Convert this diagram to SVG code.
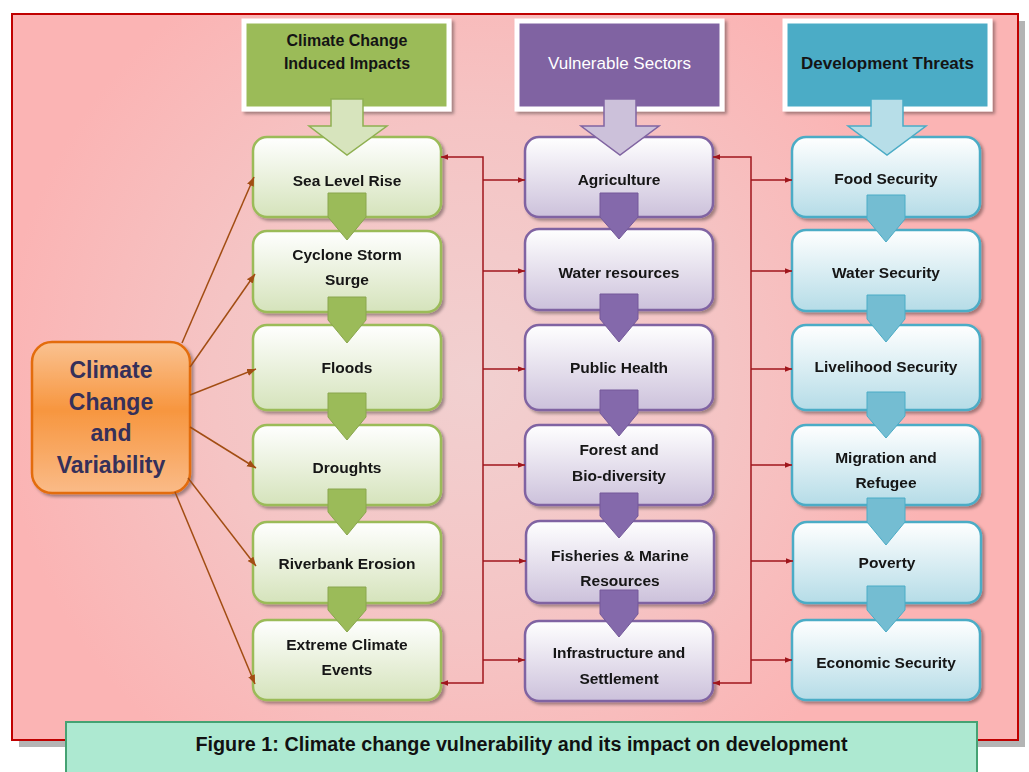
<svg xmlns="http://www.w3.org/2000/svg" width="1029" height="772" viewBox="0 0 1029 772">
  <defs>
    <style>
      .t { font-family: "Liberation Sans", Arial, sans-serif; font-weight: bold; font-size: 15.5px; fill: #141414; text-anchor: middle; }
      .hd { font-family: "Liberation Sans", Arial, sans-serif; font-weight: bold; font-size: 16px; fill: #141414; text-anchor: middle; }
      .big { font-family: "Liberation Sans", Arial, sans-serif; font-weight: bold; font-size: 23px; fill: #35305a; text-anchor: middle; }
      .g { fill: url(#gGreen); stroke: #9bbb59; stroke-width: 2.5; }
      .p { fill: url(#gPurple); stroke: #8064a2; stroke-width: 2.5; }
      .c { fill: url(#gTeal); stroke: #4bacc6; stroke-width: 2.5; }
      .link { fill: none; stroke: #a0161c; stroke-width: 1.5; }
      .cause { fill: none; stroke: #a24d13; stroke-width: 1.5; }
      .chG { fill: #9bbb59; stroke: #8aa64e; stroke-width: 1; }
      .chP { fill: #8469ab; stroke: #74599a; stroke-width: 1; }
      .chC { fill: #74bdd2; stroke: #4bacc6; stroke-width: 1; }
    </style>
    <radialGradient id="bg" cx="470" cy="380" r="470" gradientUnits="userSpaceOnUse">
      <stop offset="0" stop-color="#f1d0d0"/>
      <stop offset="0.55" stop-color="#f5c4c4"/>
      <stop offset="1" stop-color="#fbb4b4"/>
    </radialGradient>
    <linearGradient id="gGreen" x1="0" y1="0" x2="0" y2="1">
      <stop offset="0" stop-color="#ffffff"/>
      <stop offset="1" stop-color="#d5e3bb"/>
    </linearGradient>
    <linearGradient id="gPurple" x1="0" y1="0" x2="0" y2="1">
      <stop offset="0" stop-color="#ffffff"/>
      <stop offset="1" stop-color="#ccc1db"/>
    </linearGradient>
    <linearGradient id="gTeal" x1="0" y1="0" x2="0" y2="1">
      <stop offset="0" stop-color="#ffffff"/>
      <stop offset="1" stop-color="#b5dce7"/>
    </linearGradient>
    <linearGradient id="gOrange" x1="0" y1="0" x2="0" y2="1">
      <stop offset="0" stop-color="#fac291"/>
      <stop offset="0.45" stop-color="#f7963f"/>
      <stop offset="1" stop-color="#fabb88"/>
    </linearGradient>
    <filter id="sh" x="-10%" y="-10%" width="125%" height="130%">
      <feDropShadow dx="2.5" dy="2.5" stdDeviation="1.5" flood-color="#000" flood-opacity="0.35"/>
    </filter>
    <marker id="mRed" viewBox="0 0 10 10" refX="10" refY="5" markerWidth="7" markerHeight="7" markerUnits="userSpaceOnUse" orient="auto-start-reverse">
      <path d="M0,1 L10,5 L0,9 z" fill="#a0161c"/>
    </marker>
    <marker id="mBrown" viewBox="0 0 10 10" refX="10" refY="5" markerWidth="9" markerHeight="9" markerUnits="userSpaceOnUse" orient="auto">
      <path d="M0,1 L10,5 L0,9 z" fill="#a24d13"/>
    </marker>
  </defs>

  <!-- page and frame -->
  <rect x="0" y="0" width="1029" height="772" fill="#ffffff"/>
  <rect x="19" y="21" width="1006" height="726" fill="#b4b4b4"/>
  <rect x="12" y="14" width="1006" height="726" fill="url(#bg)" stroke="#c00000" stroke-width="2"/>

  <!-- column headers -->
  <g id="hdr-impacts">
    <rect x="244" y="21" width="205" height="88" fill="#9bbb59" stroke="#ffffff" stroke-width="5" filter="url(#sh)"/>
    <text class="hd" x="347" y="46">Climate Change</text>
    <text class="hd" x="347" y="69">Induced Impacts</text>
  </g>
  <g id="hdr-sectors">
    <rect x="517" y="21" width="205" height="88" fill="#8064a2" stroke="#ffffff" stroke-width="5" filter="url(#sh)"/>
    <text class="hd" x="619.5" y="69" style="fill:#ffffff;font-weight:normal;font-size:17px">Vulnerable Sectors</text>
  </g>
  <g id="hdr-threats">
    <rect x="785" y="21" width="205" height="88" fill="#4bacc6" stroke="#ffffff" stroke-width="5" filter="url(#sh)"/>
    <text class="hd" x="887.5" y="69" style="font-size:17px">Development Threats</text>
  </g>

  <!-- source node -->
  <g id="climate-change">
    <rect x="32" y="342" width="158" height="151" rx="20" fill="url(#gOrange)" stroke="#e36c09" stroke-width="2.5" filter="url(#sh)"/>
    <text class="big" x="111" y="378">Climate</text>
    <text class="big" x="111" y="410">Change</text>
    <text class="big" x="111" y="441">and</text>
    <text class="big" x="111" y="473">Variability</text>
  </g>

  <!-- impacts column -->
  <g id="sea-level-rise" filter="url(#sh)">
    <rect class="g" x="253" y="137" width="188" height="80" rx="14"/>
    <text class="t" x="347" y="186">Sea Level Rise</text>
  </g>
  <g id="cyclone" filter="url(#sh)">
    <rect class="g" x="253" y="231" width="188" height="81" rx="14"/>
    <text class="t" x="347" y="260">Cyclone Storm</text>
    <text class="t" x="347" y="285">Surge</text>
  </g>
  <g id="floods" filter="url(#sh)">
    <rect class="g" x="253" y="325" width="188" height="85" rx="14"/>
    <text class="t" x="347" y="373">Floods</text>
  </g>
  <g id="droughts" filter="url(#sh)">
    <rect class="g" x="253" y="425" width="188" height="80" rx="14"/>
    <text class="t" x="347" y="473">Droughts</text>
  </g>
  <g id="riverbank-erosion" filter="url(#sh)">
    <rect class="g" x="253" y="522" width="188" height="81" rx="14"/>
    <text class="t" x="347" y="569">Riverbank Erosion</text>
  </g>
  <g id="extreme-events" filter="url(#sh)">
    <rect class="g" x="253" y="620" width="188" height="80" rx="14"/>
    <text class="t" x="347" y="650">Extreme Climate</text>
    <text class="t" x="347" y="675">Events</text>
  </g>

  <!-- sectors column -->
  <g id="agriculture" filter="url(#sh)">
    <rect class="p" x="525" y="137" width="188" height="80" rx="14"/>
    <text class="t" x="619" y="185">Agriculture</text>
  </g>
  <g id="water-resources" filter="url(#sh)">
    <rect class="p" x="525" y="229" width="188" height="81" rx="14"/>
    <text class="t" x="619" y="278">Water resources</text>
  </g>
  <g id="public-health" filter="url(#sh)">
    <rect class="p" x="525" y="325" width="188" height="85" rx="14"/>
    <text class="t" x="619" y="373">Public Health</text>
  </g>
  <g id="forest" filter="url(#sh)">
    <rect class="p" x="525" y="425" width="188" height="80" rx="14"/>
    <text class="t" x="619" y="455">Forest and</text>
    <text class="t" x="619" y="481">Bio-diversity</text>
  </g>
  <g id="fisheries" filter="url(#sh)">
    <rect class="p" x="526" y="521" width="188" height="82" rx="14"/>
    <text class="t" x="620" y="561">Fisheries &amp; Marine</text>
    <text class="t" x="620" y="586">Resources</text>
  </g>
  <g id="infrastructure" filter="url(#sh)">
    <rect class="p" x="525" y="621" width="188" height="80" rx="14"/>
    <text class="t" x="619" y="658">Infrastructure and</text>
    <text class="t" x="619" y="684">Settlement</text>
  </g>

  <!-- threats column -->
  <g id="food-security" filter="url(#sh)">
    <rect class="c" x="792" y="137" width="188" height="80" rx="14"/>
    <text class="t" x="886" y="184">Food Security</text>
  </g>
  <g id="water-security" filter="url(#sh)">
    <rect class="c" x="792" y="230" width="188" height="81" rx="14"/>
    <text class="t" x="886" y="278">Water Security</text>
  </g>
  <g id="livelihood-security" filter="url(#sh)">
    <rect class="c" x="792" y="325" width="188" height="85" rx="14"/>
    <text class="t" x="886" y="372">Livelihood Security</text>
  </g>
  <g id="migration" filter="url(#sh)">
    <rect class="c" x="792" y="425" width="188" height="80" rx="14"/>
    <text class="t" x="886" y="463">Migration and</text>
    <text class="t" x="886" y="488">Refugee</text>
  </g>
  <g id="poverty" filter="url(#sh)">
    <rect class="c" x="793" y="522" width="188" height="81" rx="14"/>
    <text class="t" x="887" y="568">Poverty</text>
  </g>
  <g id="economic-security" filter="url(#sh)">
    <rect class="c" x="792" y="620" width="188" height="80" rx="14"/>
    <text class="t" x="886" y="668">Economic Security</text>
  </g>

  <!-- connectors -->
  <g id="connectors">
    <!-- header block arrows -->
    <polygon points="331,99 363,99 363,126 387,126 347,155 309,126 331,126" fill="#d7e4bd" stroke="#8fb051" stroke-width="1.5"/>
    <polygon points="604,99 636,99 636,126 659,126 620,155 581,126 604,126" fill="#ccc1da" stroke="#8064a2" stroke-width="1.5"/>
    <polygon points="871,99 903,99 903,126 926,126 887,155 848,126 871,126" fill="#b7dee8" stroke="#4bacc6" stroke-width="1.5"/>

    <!-- chevrons down the impacts column -->
    <polygon class="chG" points="328,193 366,193 366,217 347,240 328,217"/>
    <polygon class="chG" points="328,297 366,297 366,320 347,343 328,320"/>
    <polygon class="chG" points="328,393 366,393 366,417 347,440 328,417"/>
    <polygon class="chG" points="328,489 366,489 366,512 347,535 328,512"/>
    <polygon class="chG" points="328,587 366,587 366,610 347,632 328,610"/>

    <!-- chevrons down the sectors column -->
    <polygon class="chP" points="600,193 638,193 638,217 619,239 600,217"/>
    <polygon class="chP" points="600,294 638,294 638,319 619,342 600,319"/>
    <polygon class="chP" points="600,390 638,390 638,413 619,436 600,413"/>
    <polygon class="chP" points="600,493 638,493 638,516 619,538 600,516"/>
    <polygon class="chP" points="600,590 638,590 638,614 619,637 600,614"/>

    <!-- chevrons down the threats column -->
    <polygon class="chC" points="867,195 905,195 905,219 886,242 867,219"/>
    <polygon class="chC" points="867,295 905,295 905,319 886,342 867,319"/>
    <polygon class="chC" points="867,392 905,392 905,416 886,438 867,416"/>
    <polygon class="chC" points="867,498 905,498 905,522 886,545 867,522"/>
    <polygon class="chC" points="867,586 905,586 905,610 886,632 867,610"/>

    <!-- climate change to each impact -->
    <line class="cause" x1="182" y1="343" x2="254" y2="177" marker-end="url(#mBrown)"/>
    <line class="cause" x1="190" y1="367" x2="255" y2="274" marker-end="url(#mBrown)"/>
    <line class="cause" x1="190" y1="395" x2="256" y2="369" marker-end="url(#mBrown)"/>
    <line class="cause" x1="190" y1="427" x2="256" y2="468" marker-end="url(#mBrown)"/>
    <line class="cause" x1="188" y1="478" x2="256" y2="566" marker-end="url(#mBrown)"/>
    <line class="cause" x1="175" y1="492" x2="255" y2="684" marker-end="url(#mBrown)"/>

    <!-- impacts bus to sectors -->
    <path class="link" d="M441,157 H483 V683 H441" marker-start="url(#mRed)" marker-end="url(#mRed)"/>
    <path class="link" d="M483,180 H525" marker-end="url(#mRed)"/>
    <path class="link" d="M483,271 H525" marker-end="url(#mRed)"/>
    <path class="link" d="M483,369 H525" marker-end="url(#mRed)"/>
    <path class="link" d="M483,465 H525" marker-end="url(#mRed)"/>
    <path class="link" d="M483,561 H526" marker-end="url(#mRed)"/>
    <path class="link" d="M483,660 H525" marker-end="url(#mRed)"/>

    <!-- sectors bus to threats -->
    <path class="link" d="M713,157 H751 V683 H713" marker-start="url(#mRed)" marker-end="url(#mRed)"/>
    <path class="link" d="M751,180 H792" marker-end="url(#mRed)"/>
    <path class="link" d="M751,271 H792" marker-end="url(#mRed)"/>
    <path class="link" d="M751,369 H792" marker-end="url(#mRed)"/>
    <path class="link" d="M751,465 H792" marker-end="url(#mRed)"/>
    <path class="link" d="M751,561 H793" marker-end="url(#mRed)"/>
    <path class="link" d="M751,660 H792" marker-end="url(#mRed)"/>
  </g>

  <!-- caption -->
  <g id="caption">
    <rect x="66" y="722" width="911" height="60" fill="#ade9d1" stroke="#45a273" stroke-width="2"/>
    <text x="521.5" y="751" textLength="652" lengthAdjust="spacingAndGlyphs" style="font-family:'Liberation Sans',Arial,sans-serif;font-weight:bold;font-size:20px;fill:#111;text-anchor:middle">Figure 1: Climate change vulnerability and its impact on development</text>
  </g>
</svg>
